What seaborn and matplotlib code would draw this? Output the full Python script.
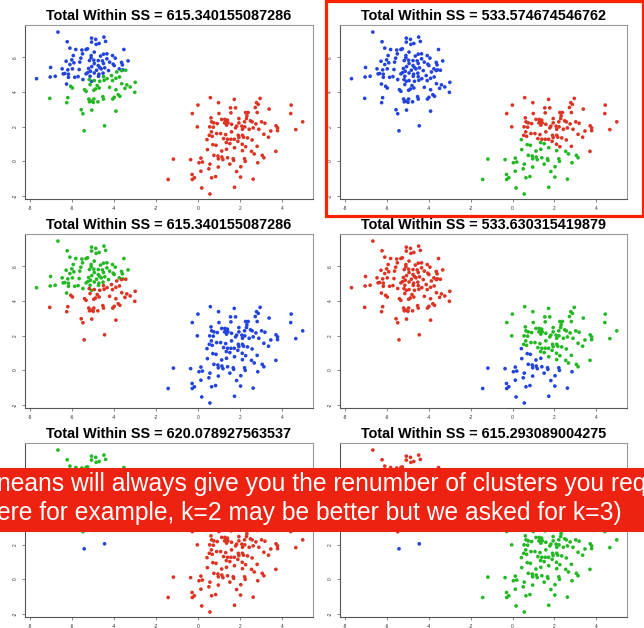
import matplotlib
matplotlib.use("Agg")
import matplotlib.pyplot as plt
from matplotlib.patches import Rectangle
import seaborn as sns
import pandas as pd

# ---------------- data ----------------
# upper-left blob, upper part (blue in panel 1)
UL_TOP = [(-6.68,7.47),(-5.08,7.12),(-4.49,7.18),(-4.88,7.05),(-6.24,6.91),(-4.41,6.93),(-4.72,6.81),
          (-5.08,6.89),(-4.86,6.76),(-6.11,6.54),(-5.83,6.46),(-5.54,6.43),(-5.34,6.46),(-5.27,6.50),
          (-3.54,6.46),(-4.95,6.31),(-4.51,6.19),(-4.35,6.21),(-5.95,6.11),(-5.51,6.21),(-5.10,6.11),
          (-5.10,5.98),(-4.65,6.08),(-4.08,6.11),(-3.95,5.96),(-5.59,5.96),(-6.02,5.86),(-6.29,5.78),
          (-4.76,5.82),(-4.56,5.80),(-4.35,5.92),(-4.22,5.73),(-4.97,5.84),(-6.11,5.59),(-5.92,5.69),
          (-5.64,5.73),(-5.18,5.82),(-3.34,5.80),(-3.65,5.71),(-3.61,5.57),(-4.95,5.65),(-4.51,5.65),
          (-4.05,5.61),(-4.00,5.53),(-4.76,5.53),(-4.69,5.42),(-4.45,5.40),(-3.76,5.34),(-3.59,5.28),
          (-7.03,5.42),(-6.48,5.34),(-6.21,5.28),(-5.67,5.30),(-5.99,5.34),(-5.22,5.36),(-5.07,5.47),
          (-4.84,5.26),(-4.62,5.34),(-4.27,5.24),(-6.43,5.05),(-6.35,5.07),(-6.18,5.03),(-5.13,5.20),
          (-5.26,5.12),(-5.34,5.05),(-4.95,5.10),(-4.73,5.03),(-4.53,5.09),(-7.05,4.87),(-6.81,4.91),
          (-6.18,4.85),(-5.88,4.85),(-5.72,4.89),(-5.49,4.72),(-5.15,4.91),(-4.75,4.91),(-7.70,4.77),
          (-6.27,4.46),(-5.08,4.62)]
# upper-left blob, lower part (green in panel 1)
UL_BOTTOM = [(-3.65,5.24),(-3.45,5.26),(-3.88,5.16),(-4.13,4.95),(-4.51,4.89),(-4.34,4.77),(-4.08,4.66),
             (-3.75,4.87),(-3.92,4.79),(-5.19,4.72),(-4.95,4.66),(-4.69,4.62),(-4.48,4.68),(-6.07,4.33),
             (-5.99,4.23),(-5.15,4.43),(-4.81,4.37),(-4.72,4.23),(-4.89,4.17),(-4.97,4.10),(-5.41,4.13),
             (-5.34,4.04),(-4.22,4.27),(-3.92,4.13),(-3.64,4.48),(-3.40,4.41),(-3.24,4.29),(-3.00,4.56),
             (-3.49,4.21),(-3.02,3.98),(-3.81,3.84),(-3.73,3.75),(-4.00,3.69),(-4.07,3.59),(-4.54,3.73),
             (-4.51,3.59),(-4.78,3.43),(-4.97,3.59),(-5.10,3.47),(-5.21,3.59),(-5.18,3.43),(-5.00,3.40),
             (-7.07,3.63),(-6.21,3.67),(-6.26,3.38),(-5.57,2.97),(-5.49,2.74),(-5.07,2.95),(-3.92,2.89)]
# two outliers below the upper-left blob
UL_OUT = [(-5.43,1.75),(-4.46,2.04)]
# lower-right blob, upper part (red in panel 2)
LR_TOP = [(0.58,3.67),(1.72,3.57),(-0.01,3.24),(0.97,3.38),(2.95,3.63),(2.78,3.38),(2.86,3.28),(1.54,3.08),
          (1.78,3.08),(2.72,3.10),(3.38,3.01),(4.43,3.24),(-0.28,2.75),(0.99,2.75),(1.56,2.79),(2.26,2.81),
          (2.38,2.81),(2.81,2.81),(4.41,2.75),(0.61,2.50),(1.12,2.41),(1.27,2.41),(1.39,2.37),(1.31,2.27),
          (1.94,2.46),(2.32,2.62),(2.30,2.46),(2.49,2.33),(0.64,2.27),(0.75,2.21),(0.91,2.17),(1.26,2.21),
          (1.42,2.21),(1.59,2.13),(1.94,2.21),(2.21,2.27),(2.57,2.27),(2.75,2.15),(3.02,2.27),(3.18,2.19),
          (-0.04,1.98),(0.55,1.98),(0.72,1.96),(1.35,2.08),(1.83,2.02),(2.08,2.02),(2.22,1.98),(2.11,1.84),
          (1.78,1.92),(2.43,1.84),(2.62,1.92),(2.89,1.84),(3.71,2.04),(3.78,1.92),(3.78,1.76),(3.46,1.74),
          (4.65,1.82),(4.98,2.27),(0.63,1.69),(0.53,1.49),(0.67,1.43),(0.88,1.59),(1.07,1.59),(1.31,1.53),
          (1.59,1.69),(1.91,1.49),(2.11,1.49),(2.16,1.38),(1.94,1.36),(2.35,1.34),(2.57,1.22),(3.13,1.55),
          (3.35,1.38),(1.21,1.30),(1.40,1.26),(1.56,1.26),(1.72,1.26),(1.89,1.14),(2.10,0.97),(2.26,0.83),
          (2.81,0.85),(3.70,0.56)]
# lower-right blob, a few points in the lower middle (green in panels 2 and 4)
LR_MID = [(1.34,1.07),(1.51,1.01),(1.73,0.77),(2.11,0.60),(2.54,0.56),(2.67,0.41),(3.05,0.33),(3.13,0.19)]
# lower-right blob, lower-left part (green in panel 2, blue in panel 4)
LR_LOW = [(0.42,1.24),(0.70,0.95),(0.85,0.91),(1.12,0.58),(1.35,0.68),(0.44,0.66),(0.75,0.33),(0.94,0.29),
          (1.13,0.23),(0.96,0.13),(1.18,0.08),(1.67,0.13),(1.69,0.04),(1.40,0.19),(2.21,0.13),(2.24,-0.02),
          (-1.18,0.11),(-0.36,0.08),(0.04,-0.10),(0.13,0.17),(0.20,-0.06),(0.56,-0.18),(1.51,-0.18),
          (2.84,-0.10),(2.03,-0.33),(0.96,-0.35),(0.51,-0.45),(0.13,-0.59),(1.83,-0.61),(-0.29,-0.78),
          (-0.18,-0.97),(-0.28,-1.07),(-1.43,-1.07),(0.64,-0.97),(0.83,-0.90),(2.02,-0.93),(2.62,-1.05),
          (0.17,-1.56),(1.73,-1.52),(0.56,-1.91)]

GROUPS = {"ul_top": UL_TOP, "ul_bottom": UL_BOTTOM, "ul_out": UL_OUT,
          "lr_top": LR_TOP, "lr_mid": LR_MID, "lr_low": LR_LOW}

TITLES = ["Total Within SS = 615.340155087286", "Total Within SS = 533.574674546762",
          "Total Within SS = 615.340155087286", "Total Within SS = 533.630315419879",
          "Total Within SS = 620.078927563537", "Total Within SS = 615.293089004275"]

# cluster colour of each group in each panel
PANEL_COLORS = [
    {"ul_top": "blue", "ul_bottom": "green", "ul_out": "green", "lr_top": "red", "lr_mid": "red", "lr_low": "red"},
    {"ul_top": "blue", "ul_bottom": "blue", "ul_out": "blue", "lr_top": "red", "lr_mid": "green", "lr_low": "green"},
    {"ul_top": "green", "ul_bottom": "red", "ul_out": "red", "lr_top": "blue", "lr_mid": "blue", "lr_low": "blue"},
    {"ul_top": "red", "ul_bottom": "red", "ul_out": "red", "lr_top": "green", "lr_mid": "green", "lr_low": "blue"},
    {"ul_top": "green", "ul_bottom": "green", "ul_out": "blue", "lr_top": "red", "lr_mid": "red", "lr_low": "red"},
    {"ul_top": "red", "ul_bottom": "red", "ul_out": "blue", "lr_top": "green", "lr_mid": "green", "lr_low": "green"},
]

X_TICKS = [-8, -6, -4, -2, 0, 2, 4]
Y_TICKS = [-2, 0, 2, 4, 6]
# y tick labels of the bottom row that the banner covers in the original
HIDDEN_BOTTOM_ROW_YTICKS = [4, 6]

BANNER_LINE1 = "neans will always give you the renumber of clusters you req"
BANNER_LINE2 = "ere for example, k=2 may be better but we asked for k=3)"

# ---------------- styling ----------------
sns.set_theme(style="white")
plt.rcParams["font.family"] = ["Liberation Sans", "DejaVu Sans"]

PALETTE = {"blue": "#2244dd", "green": "#22b822", "red": "#dd3322"}

rows = []
for g, pts in GROUPS.items():
    for (x, y) in pts:
        rows.append({"x": x, "y": y, "group": g})
df = pd.DataFrame(rows)

W, H = 644, 628
fig = plt.figure(figsize=(W / 100, H / 100), dpi=100)
fig.patch.set_facecolor("white")

col_left = [25, 340]
col_width = [288, 287]
row_top = [25, 234, 443]
ax_h = 174

for i in range(6):
    r, c = divmod(i, 2)
    left = col_left[c] / W
    bottom = (H - row_top[r] - ax_h) / H
    ax = fig.add_axes([left, bottom, col_width[c] / W, ax_h / H])
    d = df.copy()
    d["cluster"] = d["group"].map(PANEL_COLORS[i])
    sns.scatterplot(data=d, x="x", y="y", hue="cluster", palette=PALETTE, s=7,
                    linewidth=0, legend=False, ax=ax)
    ax.set_xlim(-8.25, 5.47)
    ax.set_ylim(-2.2, 7.88)
    ax.set_xticks(X_TICKS)
    ax.set_yticks(Y_TICKS)
    ax.set_xticklabels([str(t) for t in X_TICKS], fontsize=3.5, color="#333333")
    ylabels = [("" if (r == 2 and t in HIDDEN_BOTTOM_ROW_YTICKS) else str(t)) for t in Y_TICKS]
    ax.set_yticklabels(ylabels, fontsize=3.5, color="#333333", rotation=90, va="center")
    ax.tick_params(axis="both", which="major", length=2, width=0.5, color="#555555",
                   pad=3, left=True, bottom=True, direction="out")
    ax.set_xlabel("")
    ax.set_ylabel("")
    for side, sp in ax.spines.items():
        sp.set_visible(True)
        sp.set_linewidth(0.8)
        sp.set_color("#555555" if side in ("left", "bottom") else "#999999")
    ax.set_title(TITLES[i], fontsize=10.4, fontweight="bold", pad=3.5, color="black")

# red frame around the top-right panel
fig.add_artist(Rectangle((325.5 / W, 1 - 216 / H), (642.5 - 325.5) / W, (216 - 1.5) / H,
                         transform=fig.transFigure, fill=False, edgecolor="#ff2200",
                         linewidth=2.3, zorder=20))

# red banner (text runs past both edges of the picture, as in the original)
fig.add_artist(Rectangle((0, 1 - 532 / H), 1, (532 - 468) / H, transform=fig.transFigure,
                         facecolor="#ee2211", edgecolor="none", zorder=30))
# va="baseline" on a two-line text aligns the baseline of the last line
fig.text(-3 / W, 1 - 520 / H, BANNER_LINE1 + "\n" + BANNER_LINE2, ha="left", va="baseline",
         multialignment="left", color="white", fontsize=17.7, linespacing=1.25, zorder=31)

fig.savefig("out.png", dpi=100, facecolor="white")
